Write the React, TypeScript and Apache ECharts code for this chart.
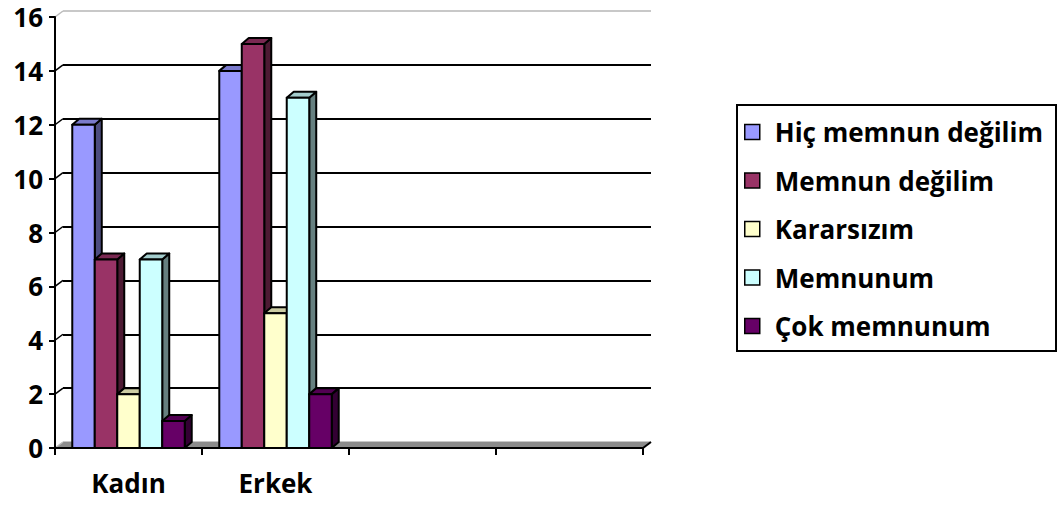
import React, { useEffect, useRef } from "react";
import * as echarts from "echarts";

const categories = ["Kadın", "Erkek", "", ""];
const seriesNames = ["Hiç memnun değilim", "Memnun değilim", "Kararsızım", "Memnunum", "Çok memnunum"];
const hicMemnunDegilim = [12, 14];
const memnunDegilim = [7, 15];
const kararsizim = [2, 5];
const memnunum = [7, 13];
const cokMemnunum = [1, 2];
const yTicks = [0, 2, 4, 6, 8, 10, 12, 14, 16];

const frontColors = ["#9999FF", "#993366", "#FFFFCC", "#CCFFFF", "#660066"];
const topColors = ["#7a7acc", "#7a2952", "#ccccA3", "#a3cccc", "#520052"];
const sideColors = ["#4d4d80", "#4d1a33", "#808066", "#668080", "#330033"];

const DX = 7;
const DY = -6;
const WX = 8;
const WY = -6;
const FONT = "'Open Sans', 'DejaVu Sans', sans-serif";

export default function App() {
  const ref = useRef<HTMLDivElement>(null);
  useEffect(() => {
    if (!ref.current) return;
    const chart = echarts.init(ref.current, null, { renderer: "svg" });
    const allValues = [hicMemnunDegilim, memnunDegilim, kararsizim, memnunum, cokMemnunum];

    const barSeries = allValues.map((vals, s) => ({
      type: "custom",
      name: seriesNames[s],
      xAxisIndex: 0,
      yAxisIndex: 0,
      z: 3,
      itemStyle: { color: frontColors[s] },
      data: vals.map((v, i) => [i, v]),
      renderItem: (params: any, api: any) => {
        const cat = api.value(0);
        const val = api.value(1);
        const base = api.coord([cat, 0]);
        const top = api.coord([cat, val]);
        const band = api.size([1, 0])[0];
        const w = band * 0.153;
        const x = base[0] - 2.5 * w + s * w;
        const ty = top[1];
        const by = base[1];
        const stroke = { stroke: "#000", lineWidth: 2, lineJoin: "round" };
        return {
          type: "group",
          children: [
            {
              type: "polygon",
              shape: { points: [[x + w, ty], [x + w + DX, ty + DY], [x + w + DX, by + DY], [x + w, by]] },
              style: { fill: sideColors[s], ...stroke },
            },
            {
              type: "polygon",
              shape: { points: [[x, ty], [x + DX, ty + DY], [x + w + DX, ty + DY], [x + w, ty]] },
              style: { fill: topColors[s], ...stroke },
            },
            {
              type: "rect",
              shape: { x, y: ty, width: w, height: by - ty },
              style: { fill: frontColors[s], ...stroke },
            },
          ],
        };
      },
    }));

    const decoSeries = {
      type: "custom",
      name: "deco",
      xAxisIndex: 0,
      yAxisIndex: 0,
      z: 1,
      silent: true,
      data: [[0, 0]],
      renderItem: (params: any, api: any) => {
        const cs = params.coordSys;
        const x = cs.x;
        const y = cs.y;
        const w = cs.width;
        const h = cs.height;
        const children: any[] = [
          {
            type: "polygon",
            shape: { points: [[x, y + h], [x + w, y + h], [x + w + WX, y + h + WY], [x + WX, y + h + WY]] },
            style: { fill: "#8c8c8c", stroke: "none" },
          },
          {
            type: "line",
            shape: { x1: x + w, y1: y + h, x2: x + w + WX, y2: y + h + WY },
            style: { stroke: "#000", lineWidth: 2 },
          },
        ];
        yTicks.forEach((v) => {
          const p = api.coord([0, v]);
          children.push({
            type: "line",
            shape: { x1: x, y1: p[1], x2: x + WX, y2: p[1] + WY },
            style: { stroke: v === 16 || v === 0 ? "#bbb" : "#000", lineWidth: 1.5 },
          });
        });
        return { type: "group", children };
      },
    };

    chart.setOption({
      animation: false,
      backgroundColor: "#fff",
      grid: [
        { left: 55, right: 416, top: 17, bottom: 57 },
        { left: 55 + WX, right: 416 - WX, top: 17 + WY, bottom: 57 - WY },
      ],
      xAxis: [
        {
          type: "category",
          gridIndex: 0,
          data: categories,
          boundaryGap: true,
          axisLine: { lineStyle: { color: "#000", width: 2 } },
          axisTick: { show: true, interval: 0, length: 7, lineStyle: { color: "#000", width: 2 } },
          axisLabel: { interval: 0, margin: 22, color: "#000", fontWeight: "bold", fontSize: 26, fontFamily: FONT },
          splitLine: { show: false },
          z: 5,
        },
        {
          type: "category",
          gridIndex: 1,
          data: categories,
          show: false,
        },
      ],
      yAxis: [
        {
          type: "value",
          gridIndex: 0,
          min: 0,
          max: 16,
          interval: 2,
          axisLine: { show: true, lineStyle: { color: "#000", width: 2 } },
          axisTick: { show: true, length: 6, lineStyle: { color: "#000", width: 2 } },
          axisLabel: { margin: 12, color: "#000", fontWeight: "bold", fontSize: 26, fontFamily: FONT },
          splitLine: { show: false },
          z: 5,
        },
        {
          type: "value",
          gridIndex: 1,
          min: 0,
          max: 16,
          interval: 2,
          axisLine: { show: false },
          axisTick: { show: false },
          axisLabel: { show: false },
          splitLine: {
            show: true,
            lineStyle: {
              color: ["#c8c8c8", "#000", "#000", "#000", "#000", "#000", "#000", "#000"],
              width: 2,
            },
          },
        },
      ],
      legend: {
        orient: "vertical",
        left: 739,
        top: 113,
        data: seriesNames,
        icon: "rect",
        itemWidth: 15,
        itemHeight: 15,
        itemGap: 20.5,
        itemStyle: { borderColor: "#000", borderWidth: 1.5 },
        textStyle: {
          color: "#000",
          fontWeight: "bold",
          fontSize: 26,
          lineHeight: 28,
          fontFamily: FONT,
          padding: [0, 0, 0, 10],
        },
      },
      graphic: [
        {
          type: "rect",
          shape: { x: 737, y: 105, width: 319, height: 246 },
          style: { fill: "none", stroke: "#000", lineWidth: 2 },
        },
      ],
      series: [decoSeries, ...barSeries],
    });
    return () => chart.dispose();
  }, []);
  return <div ref={ref} style={{ position: "fixed", left: 0, top: 0, width: 1059, height: 505 }} />;
}
